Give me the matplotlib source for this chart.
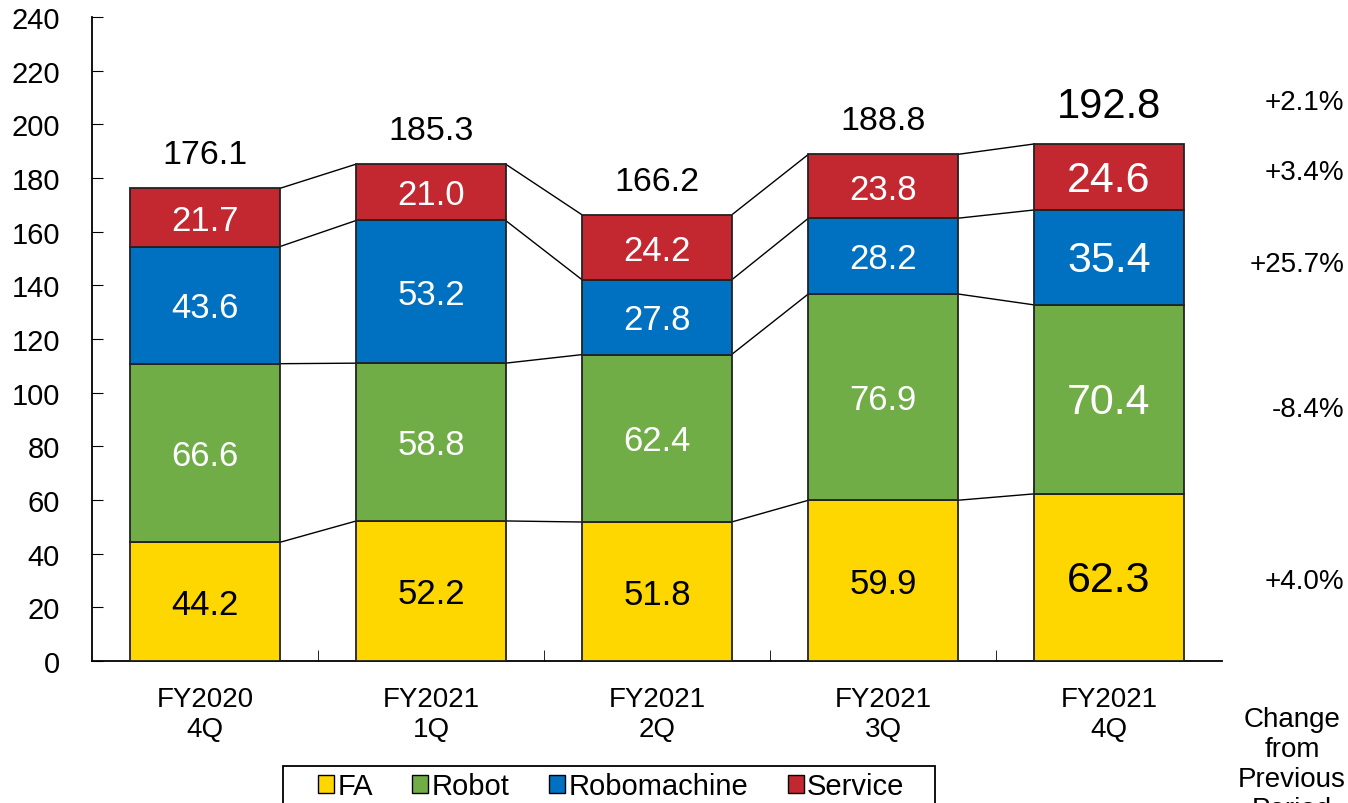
import numpy as np
from matplotlib import pyplot as plt
from matplotlib.patches import Patch, Rectangle

plt.rcParams['font.family'] = ['Liberation Sans', 'DejaVu Sans']

# data
quarters = ["FY2020\n4Q", "FY2021\n1Q", "FY2021\n2Q", "FY2021\n3Q", "FY2021\n4Q"]
segments = ["FA", "Robot", "Robomachine", "Service"]
fa = [44.2, 52.2, 51.8, 59.9, 62.3]
robot = [66.6, 58.8, 62.4, 76.9, 70.4]
robomachine = [43.6, 53.2, 27.8, 28.2, 35.4]
service = [21.7, 21.0, 24.2, 23.8, 24.6]
totals = [176.1, 185.3, 166.2, 188.8, 192.8]
changes = ["+4.0%", "-8.4%", "+25.7%", "+3.4%", "+2.1%"]
colors = ["#FFD700", "#70AD47", "#0070C0", "#C3272F"]
label_colors = ["black", "white", "white", "white"]

series = [fa, robot, robomachine, service]
x = np.arange(len(quarters))
w = 0.66

fig = plt.figure(figsize=(13.48, 8.04), dpi=100)
ax = fig.add_axes([0.0682, 0.1766, 0.8383, 0.801])

bottom = np.zeros(len(quarters))
for vals, col, tc in zip(series, colors, label_colors):
    vals = np.array(vals)
    ax.bar(x, vals, w, bottom=bottom, color=col, edgecolor="#222222", linewidth=1.3, zorder=3)
    for i, v in enumerate(vals):
        fs = 31 if i == len(vals) - 1 else 25
        ax.text(x[i], bottom[i] + v / 2 - 1, f"{v:.1f}", ha="center", va="center",
                color=tc, fontsize=fs, zorder=4)
    bottom = bottom + vals
    # connector lines between bars
    for i in range(len(x) - 1):
        ax.plot([x[i] + w / 2, x[i + 1] - w / 2], [bottom[i], bottom[i + 1]],
                color="black", linewidth=1, zorder=2)

for i, t in enumerate(totals):
    big = i == len(totals) - 1
    ax.text(x[i], bottom[i] + (14 if big else 12.5), f"{t:.1f}", ha="center",
            va="center", fontsize=30 if big else 24.5)

# change column on the right
last = np.array([s[-1] for s in series])
cum = np.cumsum(last)
mids = cum - last / 2
change_y = [mids[0] - 1.5, mids[1] - 3.5, mids[2] - 2.5, mids[3] + 2, cum[-1] + 15.5]
for c, yv in zip(changes, change_y):
    ax.text(1.1085, yv, c, transform=ax.get_yaxis_transform(), ha="right",
            va="center", fontsize=20, clip_on=False)
fig.text(0.9585, 0.121, "Change\nfrom\nPrevious\nPeriod", ha="center", va="top",
         fontsize=20, linespacing=1.2)

ax.set_xlim(-0.5, len(quarters) - 0.5)
ax.set_ylim(0, 240)
ax.set_yticks(np.arange(0, 241, 20))
ax.tick_params(axis="y", direction="in", length=8, labelsize=21, pad=23)
ax.set_xticks(x)
ax.set_xticklabels(quarters, fontsize=20, linespacing=1.2)
ax.tick_params(axis="x", length=0, pad=18)
ax.set_xticks(np.arange(0.5, len(quarters) - 0.5, 1), minor=True)
ax.tick_params(axis="x", which="minor", direction="in", length=8)
ax.spines["top"].set_visible(False)
ax.spines["right"].set_visible(False)
ax.spines["left"].set_linewidth(1.3)
ax.spines["bottom"].set_linewidth(1.3)

# legend (frame drawn separately so it runs off the bottom edge like the original)
handles = [Patch(facecolor=c, edgecolor="black") for c in colors]
fig.legend(handles, segments, loc="center", bbox_to_anchor=(0.4533, 0.021),
           ncol=4, fontsize=21, frameon=False, borderaxespad=0,
           handlelength=0.55, handleheight=0.55, handletextpad=0.12, columnspacing=1.35)
fig.patches.append(Rectangle((283 / 1348, -0.02), 652 / 1348, 0.02 + 37 / 804,
                             transform=fig.transFigure, fill=False,
                             edgecolor="black", linewidth=1.3))

fig.savefig("out.png", dpi=100)
